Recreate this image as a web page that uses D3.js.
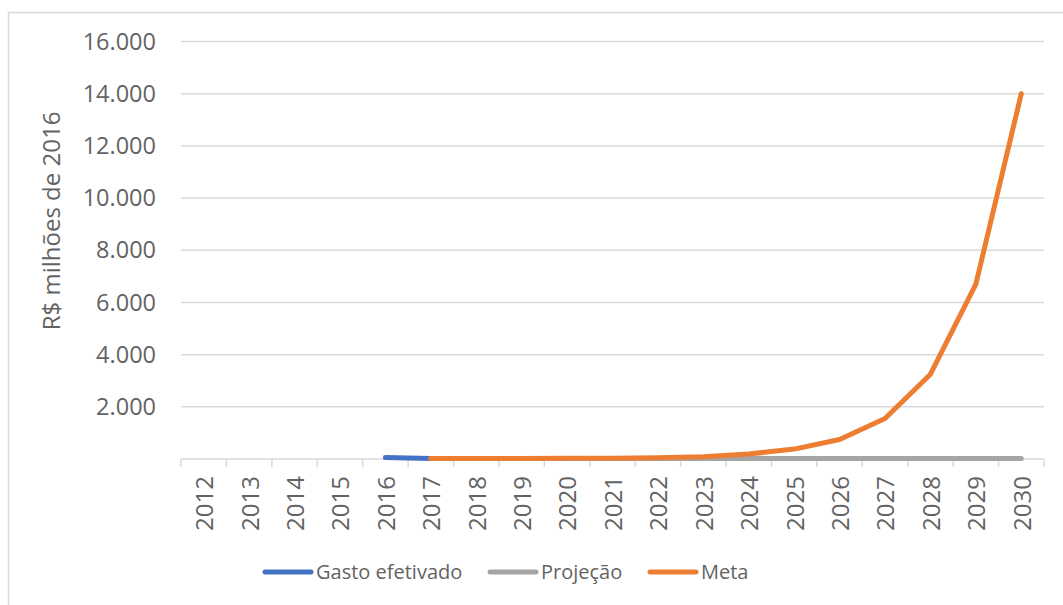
<!DOCTYPE html>
<html>
<head>
<meta charset="utf-8">
<script src="https://cdn.jsdelivr.net/npm/d3@7.9.0/dist/d3.min.js"></script>
<style>
  html, body { margin: 0; padding: 0; background: #fff; }
  svg text { font-family: "Open Sans", "Noto Sans", sans-serif; fill: #636363; }
</style>
</head>
<body>
<svg id="chart" width="1063" height="605"></svg>
<script>
// anos do eixo x
const years = d3.range(2012, 2031).map(String);

// séries (R$ milhões de 2016)
const gastoYears = ['2016', '2017'];
const gastoValues = [60, 20];

const projecaoYears = d3.range(2017, 2031).map(String);
const projecaoValues = [20, 20, 20, 20, 20, 20, 20, 20, 20, 20, 20, 20, 20, 20];

const metaYears = d3.range(2017, 2031).map(String);
const metaValues = [20, 20, 20, 25, 30, 45, 90, 190, 380, 750, 1550, 3250, 6700, 14000];

const yTicks = [2000, 4000, 6000, 8000, 10000, 12000, 14000, 16000];

const series = [
    { name: 'Gasto efetivado', color: '#4472C4', years: gastoYears, values: gastoValues },
    { name: 'Projeção', color: '#A5A5A5', years: projecaoYears, values: projecaoValues },
    { name: 'Meta', color: '#ED7D31', years: metaYears, values: metaValues }
];

const svg = d3.select('#chart');
const plotLeft = 181, plotRight = 1044, plotTop = 41.5, plotBottom = 459;

// moldura do gráfico
svg.append('rect')
   .attr('x', 8.5).attr('y', 12.5)
   .attr('width', 1080).attr('height', 620)
   .attr('fill', 'none')
   .attr('stroke', '#d9d9d9')
   .attr('stroke-width', 1.5);

const x = d3.scaleBand().domain(years).range([plotLeft, plotRight]);
const y = d3.scaleLinear().domain([0, 16000]).range([plotBottom, plotTop]);

// linhas de grade
svg.append('g')
   .selectAll('line')
   .data(yTicks)
   .join('line')
   .attr('x1', plotLeft).attr('x2', plotRight)
   .attr('y1', d => y(d)).attr('y2', d => y(d))
   .attr('stroke', '#d9d9d9')
   .attr('stroke-width', 1.5);

// rótulos do eixo y
const fmt = d3.formatLocale({ decimal: ',', thousands: '.', grouping: [3] }).format(',');
svg.append('g')
   .selectAll('text')
   .data(yTicks)
   .join('text')
   .attr('x', 156)
   .attr('y', d => y(d))
   .attr('dy', '0.35em')
   .attr('text-anchor', 'end')
   .attr('font-size', 23.5)
   .text(d => fmt(d));

// eixo x
svg.append('line')
   .attr('x1', plotLeft).attr('x2', plotRight)
   .attr('y1', plotBottom).attr('y2', plotBottom)
   .attr('stroke', '#d9d9d9')
   .attr('stroke-width', 1.5);

const tickPos = years.map(d => x(d)).concat([plotRight]);
svg.append('g')
   .selectAll('line')
   .data(tickPos)
   .join('line')
   .attr('x1', d => d).attr('x2', d => d)
   .attr('y1', plotBottom).attr('y2', plotBottom + 8)
   .attr('stroke', '#d9d9d9')
   .attr('stroke-width', 1.5);

svg.append('g')
   .selectAll('text')
   .data(years)
   .join('text')
   .attr('transform', d => `translate(${x(d) + x.bandwidth() / 2 + 1},476) rotate(-90)`)
   .attr('text-anchor', 'end')
   .attr('dy', '0.35em')
   .attr('font-size', 24)
   .text(d => d);

// título do eixo y
svg.append('text')
   .attr('transform', 'translate(52,221) rotate(-90)')
   .attr('text-anchor', 'middle')
   .attr('dy', '0.35em')
   .attr('font-size', 24)
   .text('R$ milhões de 2016');

// linhas das séries
const line = d3.line()
    .x(d => x(d[0]) + x.bandwidth() / 2)
    .y(d => y(d[1]));

svg.append('g')
   .selectAll('path')
   .data(series)
   .join('path')
   .attr('d', s => line(d3.zip(s.years, s.values)))
   .attr('fill', 'none')
   .attr('stroke', s => s.color)
   .attr('stroke-width', 5)
   .attr('stroke-linecap', 'round')
   .attr('stroke-linejoin', 'round');

// legenda
const legendX = [263, 488, 648];
const lg = svg.append('g')
   .selectAll('g')
   .data(series)
   .join('g')
   .attr('transform', (d, i) => `translate(${legendX[i]},572)`);

lg.append('line')
  .attr('x1', 2).attr('x2', 48)
  .attr('stroke', d => d.color)
  .attr('stroke-width', 5)
  .attr('stroke-linecap', 'round');

lg.append('text')
  .attr('x', 53)
  .attr('dy', '0.35em')
  .attr('font-size', 20)
  .text(d => d.name);
</script>
</body>
</html>
